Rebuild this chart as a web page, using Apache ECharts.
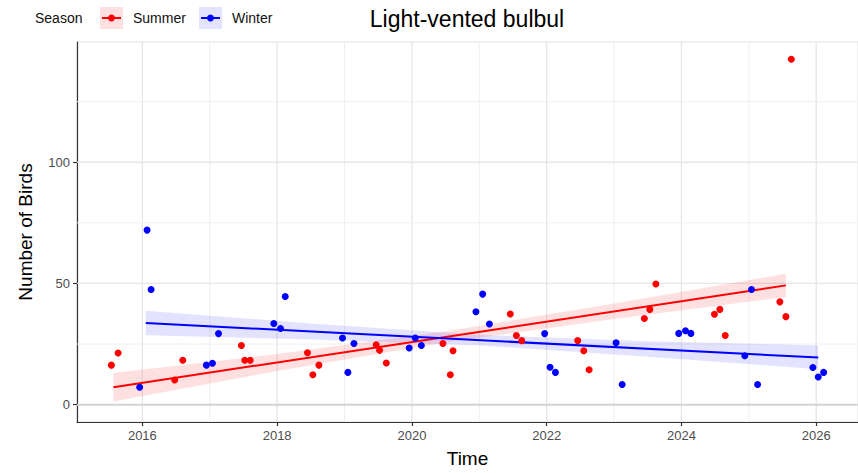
<!DOCTYPE html>
<html><head><meta charset="utf-8">
<script src="https://cdn.jsdelivr.net/npm/echarts@6/dist/echarts.min.js"></script>
<style>html,body{margin:0;padding:0;background:#fff}#c{width:858px;height:473px}</style>
</head><body><div id="c"></div>
<script>
// ---- data ----
const summerTime  = [2015.54,2015.64,2016.48,2016.60,2017.47,2017.52,2017.60,2018.45,2018.53,2018.62,2019.47,2019.52,2019.62,2020.46,2020.57,2020.61,2021.46,2021.55,2021.63,2022.46,2022.55,2022.63,2023.45,2023.53,2023.62,2024.49,2024.57,2024.65,2025.46,2025.55,2025.63];
const summerCount = [16.3,21.3,10.2,18.3,24.4,18.3,18.3,21.4,12.3,16.3,24.7,22.4,17.2,25.2,12.3,22.2,37.4,28.5,26.4,26.4,22.2,14.4,35.5,39.3,49.8,37.3,39.3,28.5,42.4,36.3,142.5];
const winterTime  = [2015.96,2016.07,2016.13,2016.95,2017.04,2017.13,2017.95,2018.05,2018.12,2018.97,2019.05,2019.14,2019.96,2020.05,2020.14,2020.95,2021.05,2021.15,2021.97,2022.05,2022.13,2023.03,2023.12,2023.96,2024.06,2024.14,2024.94,2025.04,2025.13,2025.95,2026.03,2026.11];
const winterCount = [7.2,72.0,47.5,16.3,17.1,29.3,33.5,31.4,44.6,27.5,13.3,25.2,23.4,27.5,24.4,38.3,45.6,33.3,29.3,15.4,13.3,25.5,8.3,29.4,30.5,29.4,20.2,47.5,8.3,15.3,11.4,13.3];

// fitted trend lines
const summerFitTime  = [2015.57, 2025.55];
const summerFitCount = [7.2, 49.2];
const winterFitTime  = [2016.05, 2026.03];
const winterFitCount = [33.7, 19.4];

// confidence bands
const summerBandTime = [2015.57, 2018.0, 2020.56, 2023.0, 2025.55];
const summerBandLow  = [1.3, 13.9, 25.9, 35.3, 44.4];
const summerBandHigh = [13.1, 20.9, 30.5, 41.7, 54.0];
const winterBandTime = [2016.05, 2018.5, 2021.04, 2023.5, 2026.03];
const winterBandLow  = [28.65, 26.9, 24.35, 19.8, 14.6];
const winterBandHigh = [38.75, 33.5, 28.75, 26.2, 24.4];

// axes
const xTicks = [2016, 2018, 2020, 2022, 2024, 2026];
const xMinor = [2017, 2019, 2021, 2023, 2025];
const yTicks = [0, 50, 100];
const yMinor = [25, 75, 125];

const FONT = 'Liberation Sans, Arial, Helvetica, sans-serif';
const RED = '#FF0000', BLUE = '#0000FF';
const RED_FILL = 'rgba(255,0,0,0.12)', BLUE_FILL = 'rgba(0,0,255,0.11)';

function pairs(xs, ys) { return xs.map((x, i) => [x, ys[i]]); }

function bandSeries(times, low, high, fill) {
  return {
    type: 'custom', silent: true, z: 3,
    data: times.map((t, i) => [t, low[i], high[i]]),
    renderItem(params, api) {
      if (params.dataIndex !== 0) return;
      const pts = [];
      for (let i = 0; i < times.length; i++) pts.push(api.coord([times[i], high[i]]));
      for (let i = times.length - 1; i >= 0; i--) pts.push(api.coord([times[i], low[i]]));
      return { type: 'polygon', shape: { points: pts }, style: { fill: fill } };
    }
  };
}
function vGrid(values, color, width) {
  return {
    type: 'custom', silent: true, z: 1,
    data: values.map(v => [v, 0]),
    renderItem(params, api) {
      const x = api.coord([api.value(0), 0])[0];
      const cs = params.coordSys;
      return { type: 'line', shape: { x1: x, y1: cs.y, x2: x, y2: cs.y + cs.height },
               style: { stroke: color, lineWidth: width } };
    }
  };
}
function hGrid(values, color, width) {
  return {
    type: 'custom', silent: true, z: 1,
    data: values.map(v => [2020, v]),
    renderItem(params, api) {
      const y = api.coord([2020, api.value(1)])[1];
      const cs = params.coordSys;
      return { type: 'line', shape: { x1: cs.x, y1: y, x2: cs.x + cs.width, y2: y },
               style: { stroke: color, lineWidth: width } };
    }
  };
}
function legendKey(x, color, fill) {
  return [
    { type: 'rect', shape: { x: x, y: 7, width: 23, height: 22 }, style: { fill: fill } },
    { type: 'line', shape: { x1: x + 2, y1: 18, x2: x + 21, y2: 18 }, style: { stroke: color, lineWidth: 2 } },
    { type: 'circle', shape: { cx: x + 11.5, cy: 18, r: 3.5 }, style: { fill: color } }
  ];
}

const chart = echarts.init(document.getElementById('c'), null, { renderer: 'svg' });
chart.setOption({
  animation: false,
  backgroundColor: '#ffffff',
  textStyle: { fontFamily: FONT },
  grid: { left: 77, right: 0, top: 42, bottom: 48, show: true, borderColor: '#E3E3E3', borderWidth: 1 },
  graphic: [
    { type: 'text', x: 35, y: 18, style: { text: 'Season', font: '14px ' + FONT, fill: '#111', verticalAlign: 'middle' } },
    ...legendKey(100, RED, RED_FILL),
    { type: 'text', x: 133, y: 18, style: { text: 'Summer', font: '14px ' + FONT, fill: '#111', verticalAlign: 'middle' } },
    ...legendKey(199, BLUE, BLUE_FILL),
    { type: 'text', x: 232, y: 18, style: { text: 'Winter', font: '14px ' + FONT, fill: '#111', verticalAlign: 'middle' } },
    { type: 'text', x: 467, y: 19, style: { text: 'Light-vented bulbul', font: '23px ' + FONT, fill: '#000', align: 'center', verticalAlign: 'middle' } }
  ],
  xAxis: {
    type: 'value', min: 2015.03, max: 2026.62,
    name: 'Time', nameLocation: 'middle', nameGap: 27,
    nameTextStyle: { fontSize: 19, color: '#000', fontFamily: FONT },
    axisLine: { show: true, onZero: false, lineStyle: { color: '#333', width: 1.2 } },
    axisTick: { show: true, customValues: xTicks, length: 4, lineStyle: { color: '#333', width: 1.2 } },
    axisLabel: { customValues: xTicks, color: '#4D4D4D', fontSize: 13, margin: 7, formatter: v => String(v) },
    splitLine: { show: false }
  },
  yAxis: {
    type: 'value', min: -7.16, max: 149.6,
    name: 'Number of Birds', nameLocation: 'middle', nameGap: 42, nameRotate: 90,
    nameTextStyle: { fontSize: 19, color: '#000', fontFamily: FONT },
    axisLine: { show: true, onZero: false, lineStyle: { color: '#333', width: 1.2 } },
    axisTick: { show: true, customValues: yTicks, length: 4, lineStyle: { color: '#333', width: 1.2 } },
    axisLabel: { customValues: yTicks, color: '#4D4D4D', fontSize: 13, margin: 7, formatter: v => String(v) },
    splitLine: { show: false }
  },
  series: [
    vGrid(xMinor, '#EFEFEF', 1),
    vGrid(xTicks, '#E6E6E6', 1.3),
    hGrid(yMinor, '#EFEFEF', 1),
    hGrid(yTicks.slice(1), '#E6E6E6', 1.3),
    hGrid([0], '#D3D3D3', 2),
    bandSeries(summerBandTime, summerBandLow, summerBandHigh, RED_FILL),
    bandSeries(winterBandTime, winterBandLow, winterBandHigh, BLUE_FILL),
    { type: 'line', z: 4, data: pairs(summerFitTime, summerFitCount), showSymbol: false, silent: true,
      lineStyle: { color: RED, width: 2 } },
    { type: 'line', z: 4, data: pairs(winterFitTime, winterFitCount), showSymbol: false, silent: true,
      lineStyle: { color: BLUE, width: 2 } },
    { type: 'scatter', z: 5, name: 'Summer', data: pairs(summerTime, summerCount), symbolSize: 7,
      itemStyle: { color: RED, opacity: 1 } },
    { type: 'scatter', z: 5, name: 'Winter', data: pairs(winterTime, winterCount), symbolSize: 7,
      itemStyle: { color: BLUE, opacity: 1 } }
  ]
});
</script>
</body></html>
